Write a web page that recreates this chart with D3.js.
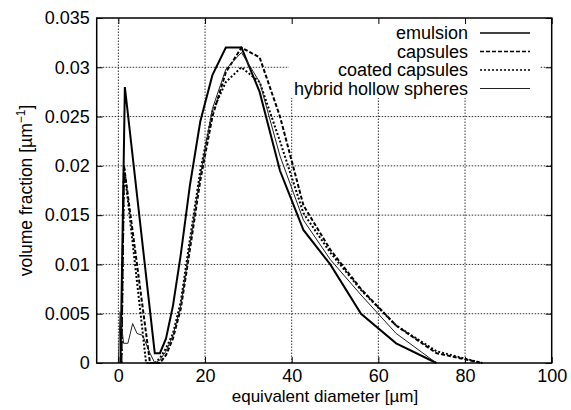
<!DOCTYPE html>
<html><head><meta charset="utf-8">
<script src="https://cdn.jsdelivr.net/npm/d3@7"></script>
<style>
html,body{margin:0;padding:0;background:#fff;}
text{font-family:"Liberation Sans",Arial,Helvetica,sans-serif;fill:#000;}
</style></head>
<body><svg id="c" width="571" height="410"></svg>
<script>
// ---- data ----
const xTicks = [0, 20, 40, 60, 80, 100];
const xTickLabels = ["0", "20", "40", "60", "80", "100"];
const yTicks = [0, 0.005, 0.01, 0.015, 0.02, 0.025, 0.03, 0.035];
const yTickLabels = ["0", "0.005", "0.01", "0.015", "0.02", "0.025", "0.03", "0.035"];
const seriesNames = ["emulsion", "capsules", "coated capsules", "hybrid hollow spheres"];

const emulsionX = [0.5, 1.5, 8.4, 9.6, 11.0, 12.6, 14.4, 16.5, 18.9, 21.7, 24.8, 28.4, 32.6, 37.3, 42.7, 48.9, 56.0, 64.1, 73.4];
const emulsionY = [0, 0.028, 0.001, 0.001, 0.0025, 0.0058, 0.011, 0.018, 0.0245, 0.0292, 0.032, 0.032, 0.0275, 0.0195, 0.0135, 0.0100, 0.005, 0.002, 0];

const capsulesX = [0.7, 1.3, 7.3, 9.6, 11.0, 12.6, 14.4, 16.5, 18.9, 21.7, 24.8, 28.4, 32.6, 37.3, 42.7, 48.9, 56.0, 64.1, 73.4, 84.0];
const capsulesY = [0, 0.020, 0, 0, 0.0008, 0.0025, 0.0055, 0.0115, 0.0185, 0.025, 0.0295, 0.032, 0.031, 0.025, 0.016, 0.0115, 0.0075, 0.0038, 0.001, 0];

const coatedX = [0.7, 1.3, 6.4, 8.4, 9.6, 11.0, 12.6, 14.4, 16.5, 18.9, 21.7, 24.8, 28.4, 32.6, 37.3, 42.7, 48.9, 56.0, 64.1, 73.4, 84.0];
const coatedY = [0, 0.020, 0, 0, 0.0005, 0.0015, 0.003, 0.0062, 0.0125, 0.0195, 0.0255, 0.0285, 0.030, 0.0285, 0.0225, 0.0152, 0.0112, 0.0074, 0.0038, 0.0012, 0];

const hybridX = [0, 0.4, 1.2, 2.2, 3.3, 4.3, 5.6, 7.3, 8.4, 9.6, 11.0, 12.6, 14.4, 16.5, 18.9, 21.7, 24.8, 28.4, 32.6, 37.3, 42.7, 48.9, 56.0, 64.1, 73.4];
const hybridY = [0, 0.0052, 0.002, 0.002, 0.004, 0.003, 0.0028, 0.001, 0, 0.0003, 0.0012, 0.0028, 0.0058, 0.012, 0.019, 0.0258, 0.0298, 0.0315, 0.0285, 0.021, 0.0145, 0.0105, 0.0069, 0.003, 0];

// ---- layout ----
const L = 96.7, R = 551.7, T = 18, B = 363;
const svg = d3.select("#c");
const x = d3.scaleLinear().domain([-5, 100]).range([L, R]);
const y = d3.scaleLinear().domain([0, 0.035]).range([B, T]);

const styles = [
  {w: 2, dash: null, color: "#000"},
  {w: 2, dash: "4,2", color: "#000"},
  {w: 2, dash: "2,2", color: "#000"},
  {w: 1, dash: null, color: "#222"}
];
const series = [
  emulsionX.map((v, i) => [v, emulsionY[i]]),
  capsulesX.map((v, i) => [v, capsulesY[i]]),
  coatedX.map((v, i) => [v, coatedY[i]]),
  hybridX.map((v, i) => [v, hybridY[i]])
];

// grid
const grid = svg.append("g").attr("stroke", "#000").attr("stroke-width", 0.8).attr("stroke-dasharray", "1.5,1.5");
xTicks.filter(d => d > -5 && d < 100).forEach(d => {
  grid.append("line").attr("x1", x(d)).attr("x2", x(d)).attr("y1", B).attr("y2", T);
});
yTicks.filter(d => d > 0 && d < 0.035).forEach(d => {
  grid.append("line").attr("x1", L).attr("x2", R).attr("y1", y(d)).attr("y2", y(d));
});

// legend background box (covers grid)
svg.append("rect").attr("x", 289).attr("y", T + 1).attr("width", 251).attr("height", 79).attr("fill", "#fff");

// curves
const line = d3.line().x(d => x(d[0])).y(d => y(d[1]));
series.forEach((s, i) => {
  svg.append("path").datum(s).attr("d", line)
    .attr("fill", "none").attr("stroke", styles[i].color)
    .attr("stroke-width", styles[i].w)
    .attr("stroke-dasharray", styles[i].dash)
    .attr("stroke-linejoin", "miter");
});

// axes
const fs = "18px";
const ax = svg.append("g").attr("transform", `translate(0,${B})`)
  .call(d3.axisBottom(x).tickValues(xTicks).tickFormat((d, i) => xTickLabels[i]).tickSizeInner(-6).tickSizeOuter(0).tickPadding(6));
const ayl = svg.append("g").attr("transform", `translate(${L},0)`)
  .call(d3.axisLeft(y).tickValues(yTicks).tickFormat((d, i) => yTickLabels[i]).tickSizeInner(-6).tickSizeOuter(0).tickPadding(7));
const axt = svg.append("g").attr("transform", `translate(0,${T})`)
  .call(d3.axisTop(x).tickValues(xTicks).tickFormat("").tickSizeInner(-6).tickSizeOuter(0));
const ayr = svg.append("g").attr("transform", `translate(${R},0)`)
  .call(d3.axisRight(y).tickValues(yTicks).tickFormat("").tickSizeInner(-6).tickSizeOuter(0));
[ax, ayl, axt, ayr].forEach(g => {
  g.select(".domain").remove();
  g.selectAll("line").attr("stroke", "#000").attr("stroke-width", 1);
  g.selectAll("text").style("font-size", fs).style("font-family", '"Liberation Sans",Arial,sans-serif').attr("fill", "#000");
});

// frame
svg.append("rect").attr("x", L).attr("y", T).attr("width", R - L).attr("height", B - T)
  .attr("fill", "none").attr("stroke", "#000").attr("stroke-width", 1.5);

// axis titles
svg.append("text").attr("x", 325).attr("y", 402).attr("text-anchor", "middle")
  .style("font-size", "17px").text("equivalent diameter [µm]");
const yt = svg.append("text").attr("transform", `translate(32,${(T + B) / 2}) rotate(-90)`)
  .attr("text-anchor", "middle").style("font-size", "17.5px");
yt.append("tspan").text("volume fraction [µm");
yt.append("tspan").attr("dy", -7).style("font-size", "12px").text("−1");
yt.append("tspan").attr("dy", 7).text("]");

// legend
const legY = [33, 51.5, 70, 88.5];
seriesNames.forEach((n, i) => {
  svg.append("text").attr("x", 468).attr("y", legY[i]).attr("dy", "0.35em")
    .attr("text-anchor", "end").style("font-size", fs).text(n);
  svg.append("line").attr("x1", 480).attr("x2", 530).attr("y1", legY[i]).attr("y2", legY[i])
    .attr("stroke", styles[i].color).attr("stroke-width", i === 3 ? 1 : 1.5)
    .attr("stroke-dasharray", styles[i].dash);
});
</script></body></html>
